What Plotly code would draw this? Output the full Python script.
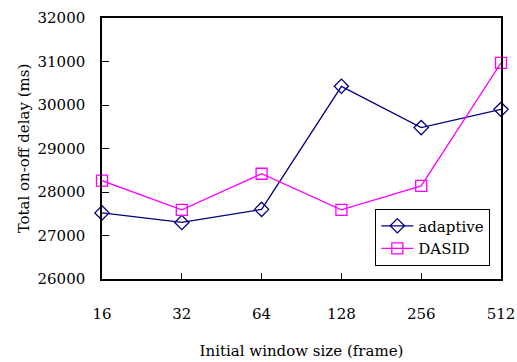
import plotly.graph_objects as go

window_sizes = ["16", "32", "64", "128", "256", "512"]
adaptive = [27520, 27300, 27600, 30430, 29480, 29900]
dasid = [28260, 27590, 28420, 27590, 28140, 30970]
y_ticks = [26000, 27000, 28000, 29000, 30000, 31000, 32000]

xpos = list(range(len(window_sizes)))
font = dict(family="DejaVu Serif", size=15, color="black")

fig = go.Figure()
fig.add_trace(go.Scatter(
    x=xpos, y=adaptive, name="adaptive", mode="lines+markers",
    line=dict(color="#000080", width=1.3),
    marker=dict(symbol="diamond-open", size=11, color="#000080", line=dict(width=1.3)),
    cliponaxis=False,
))
fig.add_trace(go.Scatter(
    x=xpos, y=dasid, name="DASID", mode="lines+markers",
    line=dict(color="#FF00FF", width=1.3),
    marker=dict(symbol="square-open", size=11, color="#FF00FF", line=dict(width=1.3)),
    cliponaxis=False,
))

fig.update_layout(
    width=517, height=362,
    margin=dict(l=102, r=16, t=18, b=83),
    paper_bgcolor="white", plot_bgcolor="white",
    font=font,
    showlegend=True,
    legend=dict(
        x=0.685, y=0.27, xanchor="left", yanchor="top",
        bordercolor="black", borderwidth=1, bgcolor="white",
        font=font, tracegroupgap=0, itemwidth=32,
    ),
)
fig.update_xaxes(
    range=[0, 5], tickvals=xpos, ticktext=window_sizes,
    showline=True, linecolor="black", linewidth=1.5, mirror=True,
    ticks="inside", ticklen=6, tickcolor="black", tickwidth=1,
    ticklabelstandoff=20, showgrid=False, zeroline=False,
    ticklabeloverflow="allow", automargin=False,
    tickfont=font,
    title=dict(text="Initial window size (frame)", standoff=24, font=font),
)
fig.update_yaxes(
    range=[26000, 32000], tickvals=y_ticks, tickformat="d",
    showline=True, linecolor="black", linewidth=1.5, mirror=True,
    ticks="inside", ticklen=7, tickcolor="black", tickwidth=1,
    ticklabelstandoff=12, showgrid=False, zeroline=False,
    automargin=False,
    tickfont=font,
    title=dict(text="Total on-off delay (ms)", standoff=4, font=font),
)

fig.write_html("out.html")
